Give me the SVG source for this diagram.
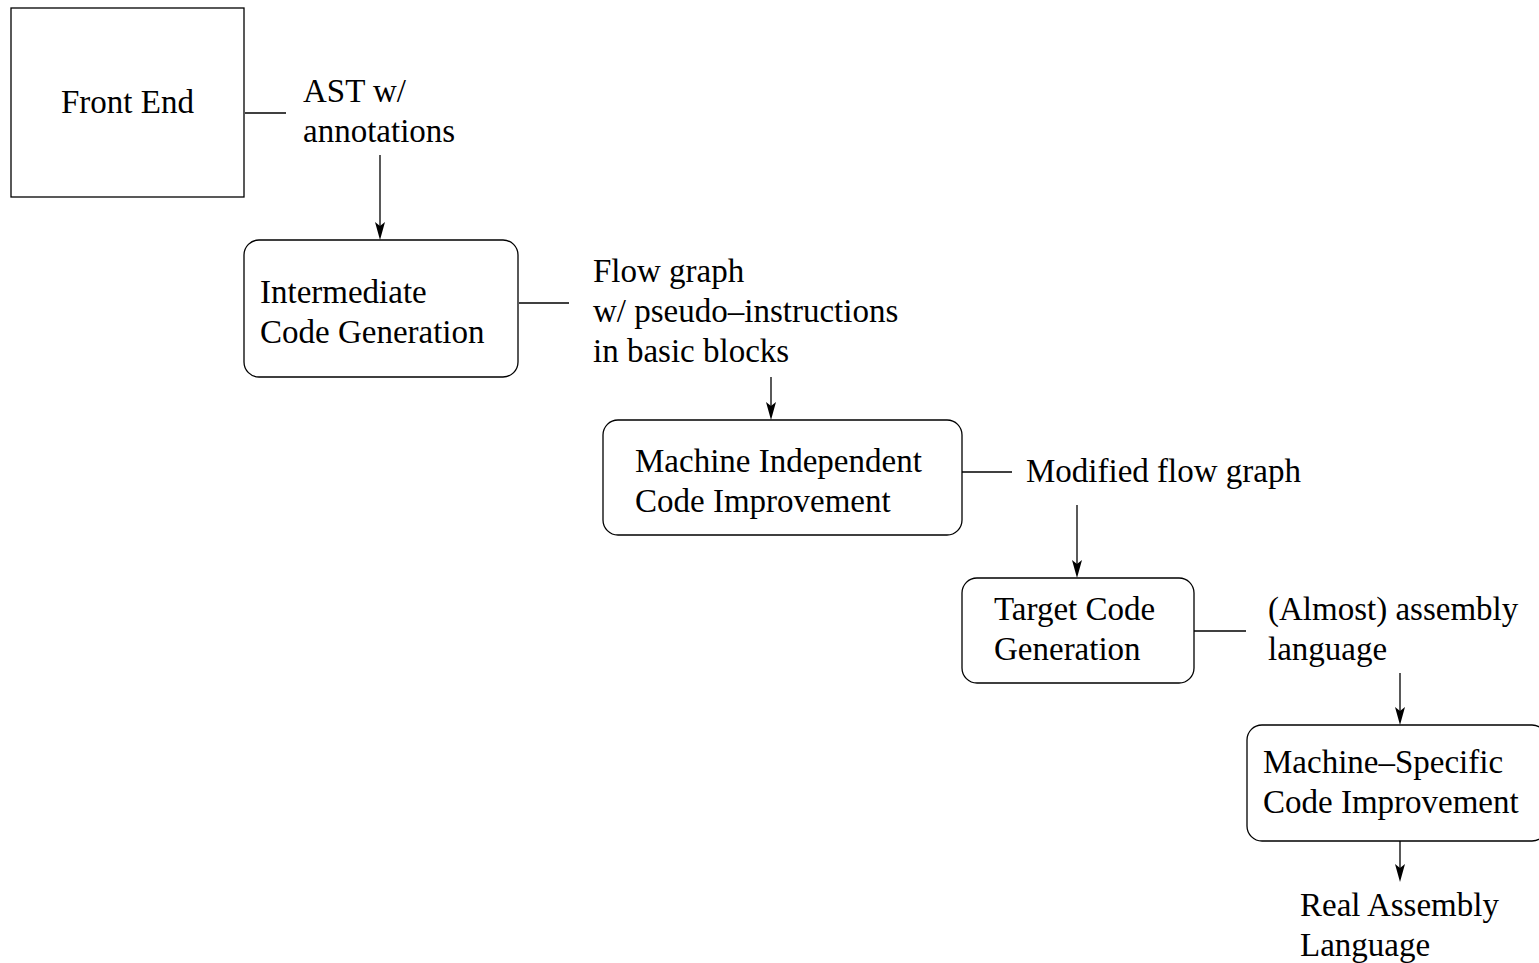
<svg xmlns="http://www.w3.org/2000/svg" width="1539" height="963" viewBox="0 0 1539 963">
<style>
.box{fill:#fff;stroke:#000;stroke-width:1.3}
.ln{fill:none;stroke:#000;stroke-width:1.3}
.ah{fill:#000}
text{font-family:"Liberation Serif","Times New Roman",serif;font-size:33px;fill:#000}
</style>
<rect width="1539" height="963" fill="#fff"/>
<g id="connectors">
<line class="ln" x1="245" y1="113" x2="286" y2="113"/>
<line class="ln" x1="519" y1="303" x2="569" y2="303"/>
<line class="ln" x1="962" y1="472" x2="1012" y2="472"/>
<line class="ln" x1="1194" y1="631" x2="1246" y2="631"/>
<path d="M380,155 L380,236" class="ln"/>
<path class="ah" d="M375,222 L380,240 L385,222 L380,226 Z"/>
<path d="M771,377 L771,416" class="ln"/>
<path class="ah" d="M766,402 L771,420 L776,402 L771,406 Z"/>
<path d="M1077,505 L1077,574" class="ln"/>
<path class="ah" d="M1072,560 L1077,578 L1082,560 L1077,564 Z"/>
<path d="M1400,673 L1400,721" class="ln"/>
<path class="ah" d="M1395,707 L1400,725 L1405,707 L1400,711 Z"/>
<path d="M1400,841 L1400,878" class="ln"/>
<path class="ah" d="M1395,864 L1400,882 L1405,864 L1400,868 Z"/>
</g>
<g id="front-end">
<rect class="box" x="11" y="8" width="233" height="189"/>
<text x="61" y="113">Front End</text>
</g>
<g id="label-ast">
<text x="303" y="102">AST w/</text>
<text x="303" y="142">annotations</text>
</g>
<g id="intermediate">
<rect class="box" x="244" y="240" width="274" height="137" rx="15" ry="15"/>
<text x="260" y="303">Intermediate</text>
<text x="260" y="343">Code Generation</text>
</g>
<g id="label-flow">
<text x="593" y="282">Flow graph</text>
<text x="593" y="322">w/ pseudo–instructions</text>
<text x="593" y="362">in basic blocks</text>
</g>
<g id="mi-improvement">
<rect class="box" x="603" y="420" width="359" height="115" rx="15" ry="15"/>
<text x="635" y="472">Machine Independent</text>
<text x="635" y="512">Code Improvement</text>
</g>
<g id="label-modified">
<text x="1026" y="482">Modified flow graph</text>
</g>
<g id="target-code">
<rect class="box" x="962" y="578" width="232" height="105" rx="15" ry="15"/>
<text x="994" y="620">Target Code</text>
<text x="994" y="660">Generation</text>
</g>
<g id="label-almost">
<text x="1268" y="620">(Almost) assembly</text>
<text x="1268" y="660">language</text>
</g>
<g id="ms-improvement">
<rect class="box" x="1247" y="725" width="300" height="116" rx="15" ry="15"/>
<text x="1263" y="773">Machine–Specific</text>
<text x="1263" y="813">Code Improvement</text>
</g>
<g id="label-real">
<text x="1300" y="916">Real Assembly</text>
<text x="1300" y="956">Language</text>
</g>
</svg>
